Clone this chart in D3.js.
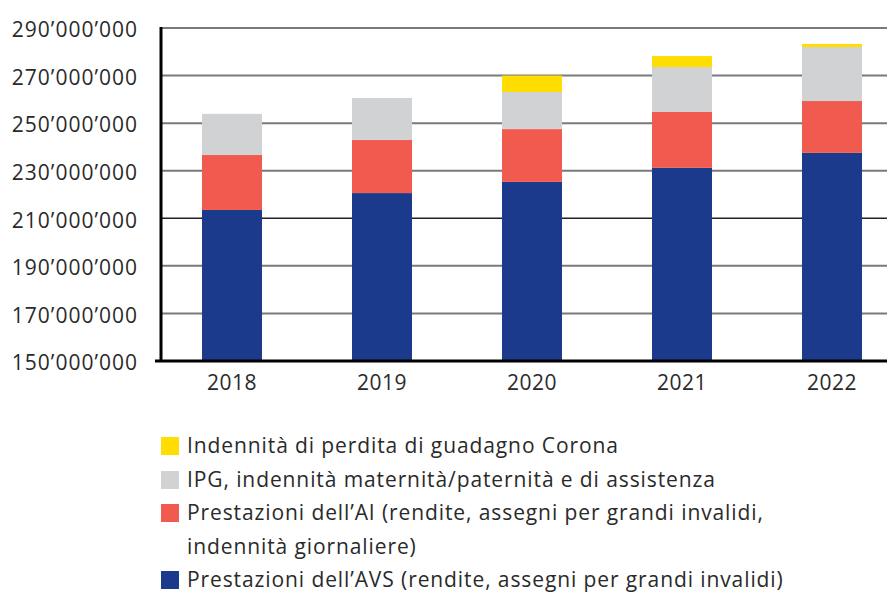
<!DOCTYPE html>
<html>
<head>
<meta charset="utf-8">
<script src="https://cdn.jsdelivr.net/npm/d3@7"></script>
<style>
  body { margin: 0; background: #fff; }
  text { font-family: "Open Sans", "Noto Sans", sans-serif; fill: #2a2a2a; }
</style>
</head>
<body>
<div id="chart"></div>
<script>
// Chart data (values in francs)
var years = ["2018", "2019", "2020", "2021", "2022"];
var avs = [213500000, 220600000, 225300000, 231200000, 237500000];
var ai = [23100000, 22300000, 22200000, 23500000, 21800000];
var ipg = [17300000, 17700000, 15600000, 18900000, 22700000];
var corona = [0, 0, 6900000, 4600000, 1300000];
var yTicks = [150000000, 170000000, 190000000, 210000000, 230000000, 250000000, 270000000, 290000000];

var seriesKeys = ["avs", "ai", "ipg", "corona"];
var seriesColors = { avs: "#1c3a8b", ai: "#f15a4f", ipg: "#d1d2d4", corona: "#ffdd00" };
var legendLabels = [
    { key: "corona", lines: ["Indennità di perdita di guadagno Corona"] },
    { key: "ipg", lines: ["IPG, indennità maternità/paternità e di assistenza"] },
    { key: "ai", lines: ["Prestazioni dell’AI (rendite, assegni per grandi invalidi,", "indennità giornaliere)"] },
    { key: "avs", lines: ["Prestazioni dell’AVS (rendite, assegni per grandi invalidi)"] }
];

var svgWidth = 887;
var svgHeight = 595;

var svg = d3.select("#chart")
    .append("svg")
    .attr("width", svgWidth)
    .attr("height", svgHeight);

// build table for stacking
var table = years.map(function(y, i) {
    return { year: y, avs: avs[i], ai: ai[i], ipg: ipg[i], corona: corona[i] };
});
var stacked = d3.stack().keys(seriesKeys)(table);

var axisX = 161;
var yScale = d3.scaleLinear()
    .domain([150000000, 290000000])
    .range([361, 28]);

var xScale = d3.scaleBand()
    .domain(years)
    .range([157, 907])
    .paddingInner(0.6)
    .paddingOuter(0.3);

var fmt = function(v) {
    return d3.format(",")(v).replace(/,/g, "’");
};

// gridlines
svg.append("g")
    .selectAll("line")
    .data(yTicks.slice(1))
    .enter()
    .append("line")
    .attr("x1", axisX)
    .attr("x2", svgWidth)
    .attr("y1", d => yScale(d))
    .attr("y2", d => yScale(d))
    .attr("stroke", d => d === 210000000 ? "#222" : "#7a7a7a")
    .attr("stroke-width", d => d === 210000000 ? 1.5 : 2);

// bars
var layers = svg.append("g")
    .selectAll("g")
    .data(stacked)
    .enter()
    .append("g")
    .attr("fill", d => seriesColors[d.key]);

layers.selectAll("rect")
    .data(d => d)
    .enter()
    .append("rect")
    .attr("x", d => xScale(d.data.year))
    .attr("width", xScale.bandwidth())
    .attr("y", d => yScale(d[1]))
    .attr("height", d => Math.max(0, yScale(Math.max(d[0], 150000000)) - yScale(d[1])));

// y axis
var leftAxis = d3.axisLeft(yScale)
    .tickValues(yTicks)
    .tickSize(0)
    .tickPadding(23)
    .tickFormat(fmt);

var yAxis = svg.append("g")
    .attr("transform", `translate(${axisX}, 2)`)
    .call(leftAxis);
yAxis.select(".domain").remove();
yAxis.selectAll("text")
    .style("font-size", "21px")
    .style("letter-spacing", "1px")
    .attr("fill", "#2a2a2a");

// x axis
var bottomAxis = d3.axisBottom(xScale)
    .tickSize(0)
    .tickPadding(14);

var xAxis = svg.append("g")
    .attr("transform", "translate(0, 361)")
    .call(bottomAxis);
xAxis.select(".domain").remove();
xAxis.selectAll("text")
    .style("font-size", "21px")
    .style("letter-spacing", "0.5px")
    .attr("fill", "#2a2a2a");

// axis lines
svg.append("line")
    .attr("x1", axisX)
    .attr("x2", axisX)
    .attr("y1", 27)
    .attr("y2", 362)
    .attr("stroke", "#000")
    .attr("stroke-width", 3);

svg.append("line")
    .attr("x1", 155)
    .attr("x2", svgWidth)
    .attr("y1", 361)
    .attr("y2", 361)
    .attr("stroke", "#000")
    .attr("stroke-width", 3);

// legend
var legendRows = [446, 480, 513, 580];
var legend = svg.append("g");
legendLabels.forEach(function(item, i) {
    var cy = legendRows[i];
    legend.append("rect")
        .attr("x", 161)
        .attr("y", cy - 9)
        .attr("width", 18)
        .attr("height", 18)
        .attr("fill", seriesColors[item.key]);
    item.lines.forEach(function(line, j) {
        legend.append("text")
            .attr("x", 187)
            .attr("y", cy + j * 34)
            .attr("dy", "0.35em")
            .style("font-size", "21px")
            .style("letter-spacing", "0.9px")
            .text(line);
    });
});
</script>
</body>
</html>
